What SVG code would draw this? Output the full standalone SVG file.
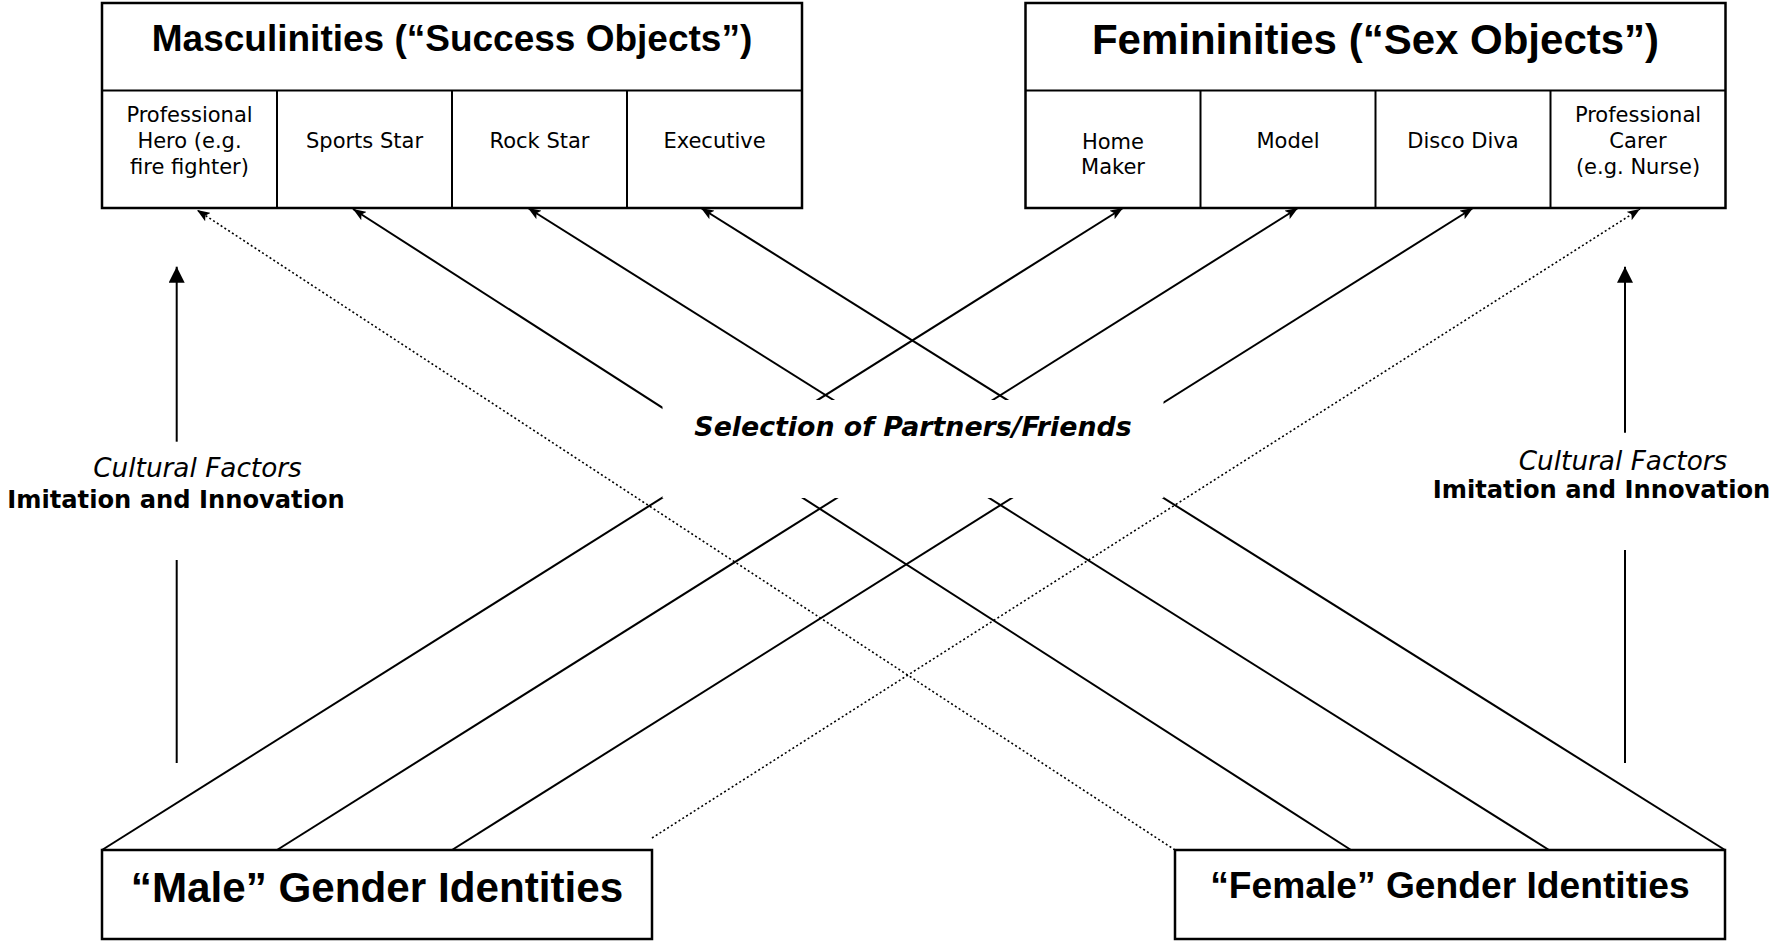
<svg xmlns="http://www.w3.org/2000/svg" width="1773" height="942" viewBox="0 0 1773 942">
<style>
.box{fill:#fff;stroke:#000;stroke-width:2.5}
.div{stroke:#000;stroke-width:2}
.ln{stroke:#000;stroke-width:2;fill:none}
.dot{stroke:#000;stroke-width:1.6;fill:none;stroke-dasharray:2 2.5}
.title{font-family:"Liberation Sans",Arial,sans-serif;font-weight:bold;text-anchor:middle;fill:#000}
.cell{font-family:"DejaVu Sans",Verdana,sans-serif;font-size:21px;text-anchor:middle;fill:#000}
.cf{font-family:"DejaVu Sans",Verdana,sans-serif;font-style:italic;font-size:26.3px;text-anchor:middle;fill:#000}
.ii{font-family:"DejaVu Sans",Verdana,sans-serif;font-weight:bold;font-size:24.2px;text-anchor:middle;fill:#000}
.sel{font-family:"DejaVu Sans",Verdana,sans-serif;font-weight:bold;font-style:oblique;font-size:26.8px;text-anchor:middle;fill:#000}
</style>
<defs>
<marker id="ah" markerUnits="userSpaceOnUse" markerWidth="14" markerHeight="10" refX="13" refY="5" orient="auto">
<path d="M0,0 L13,5 L0,10 L3,5 z" fill="#000"/>
</marker>
<marker id="ahv" markerUnits="userSpaceOnUse" markerWidth="16" markerHeight="16" refX="16" refY="8" orient="auto">
<path d="M0,0 L16,8 L0,16 z" fill="#000"/>
</marker>
</defs>
<rect width="1773" height="942" fill="#fff"/>

<g id="connectors">
<line class="ln" x1="102" y1="850" x2="1123" y2="208" marker-end="url(#ah)"/>
<line class="ln" x1="277" y1="850" x2="1298" y2="208" marker-end="url(#ah)"/>
<line class="ln" x1="452" y1="850" x2="1473" y2="208" marker-end="url(#ah)"/>
<line class="dot" x1="652" y1="838" x2="1640" y2="209" marker-end="url(#ah)"/>
<line class="dot" x1="1175" y1="850" x2="197" y2="210" marker-end="url(#ah)"/>
<line class="ln" x1="1351" y1="850" x2="353" y2="209" marker-end="url(#ah)"/>
<line class="ln" x1="1549" y1="850" x2="528" y2="208" marker-end="url(#ah)"/>
<line class="ln" x1="1725" y1="850" x2="701" y2="208" marker-end="url(#ah)"/>
<line class="ln" x1="176.7" y1="441.7" x2="176.7" y2="266.7" marker-end="url(#ahv)"/>
<line class="ln" x1="176.7" y1="560" x2="176.7" y2="763"/>
<line class="ln" x1="1625" y1="432.7" x2="1625" y2="266.7" marker-end="url(#ahv)"/>
<line class="ln" x1="1625" y1="550" x2="1625" y2="763"/>
</g>

<g id="selection">
<rect x="662.5" y="400" width="501" height="98" fill="#fff"/>
<text class="sel" x="913" y="436">Selection of Partners/Friends</text>
</g>

<g id="cultural-left">
<text class="cf" x="197.5" y="477">Cultural Factors</text>
<text class="ii" x="176" y="508">Imitation and Innovation</text>
</g>
<g id="cultural-right">
<text class="cf" x="1623" y="470">Cultural Factors</text>
<text class="ii" x="1601.5" y="498">Imitation and Innovation</text>
</g>

<g id="masculinities">
<rect class="box" x="102" y="3" width="700" height="205"/>
<line class="div" x1="102" y1="90.5" x2="802" y2="90.5"/>
<line class="div" x1="277" y1="90.5" x2="277" y2="208"/>
<line class="div" x1="452" y1="90.5" x2="452" y2="208"/>
<line class="div" x1="627" y1="90.5" x2="627" y2="208"/>
<text class="title" x="452" y="51" font-size="37">Masculinities (“Success Objects”)</text>
<text class="cell" x="189.5" y="122">Professional</text>
<text class="cell" x="189.5" y="148">Hero (e.g.</text>
<text class="cell" x="189.5" y="174">fire fighter)</text>
<text class="cell" x="364.5" y="148">Sports Star</text>
<text class="cell" x="539.5" y="148">Rock Star</text>
<text class="cell" x="714.5" y="148">Executive</text>
</g>

<g id="femininities">
<rect class="box" x="1025.5" y="3" width="700" height="205"/>
<line class="div" x1="1025.5" y1="90.5" x2="1725.5" y2="90.5"/>
<line class="div" x1="1200.5" y1="90.5" x2="1200.5" y2="208"/>
<line class="div" x1="1375.5" y1="90.5" x2="1375.5" y2="208"/>
<line class="div" x1="1550.5" y1="90.5" x2="1550.5" y2="208"/>
<text class="title" x="1375.5" y="54" font-size="42">Femininities (“Sex Objects”)</text>
<text class="cell" x="1113" y="149">Home</text>
<text class="cell" x="1113" y="174">Maker</text>
<text class="cell" x="1288" y="148">Model</text>
<text class="cell" x="1463" y="148">Disco Diva</text>
<text class="cell" x="1638" y="122">Professional</text>
<text class="cell" x="1638" y="148">Carer</text>
<text class="cell" x="1638" y="174">(e.g. Nurse)</text>
</g>

<g id="male">
<rect class="box" x="102" y="850" width="550" height="89"/>
<text class="title" x="377" y="902" font-size="42.2">“Male” Gender Identities</text>
</g>

<g id="female">
<rect class="box" x="1175" y="850" width="550" height="89"/>
<text class="title" x="1450" y="898" font-size="37.2">“Female” Gender Identities</text>
</g>
</svg>
